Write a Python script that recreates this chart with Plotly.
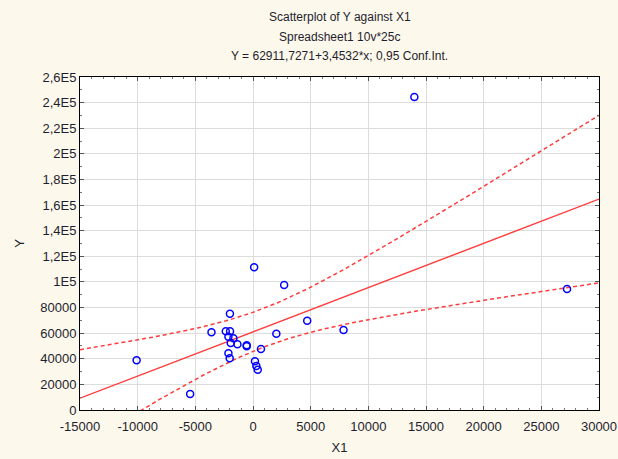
import numpy as np
import plotly.graph_objects as go

# Data
x1 = [100, 2700, -2000, -3600, -2360, -1990, -2130, -1700, -1930, -1350,
      -545, -545, 2025, 4700, 7850, 690, -2130, -2020, 170, 290,
      410, -10090, -5450, 13990, 27230]
y = [111400, 97600, 75200, 60700, 61400, 61400, 57200, 56000, 52300, 51300,
     50500, 49700, 59600, 69700, 62500, 47600, 44300, 40400, 38000, 34400,
     31500, 38800, 12500, 244300, 94500]

xtick_vals = [-15000, -10000, -5000, 0, 5000, 10000, 15000, 20000, 25000, 30000]
xtick_text = ["-15000", "-10000", "-5000", "0", "5000", "10000", "15000", "20000", "25000", "30000"]
ytick_vals = [0, 20000, 40000, 60000, 80000, 100000, 120000, 140000, 160000,
              180000, 200000, 220000, 240000, 260000]
ytick_text = ["0", "20000", "40000", "60000", "80000", "1E5", "1,2E5", "1,4E5", "1,6E5",
              "1,8E5", "2E5", "2,2E5", "2,4E5", "2,6E5"]

title_lines = ["Scatterplot of Y against X1", "Spreadsheet1 10v*25c",
               "Y = 62911,7271+3,4532*x; 0,95 Conf.Int."]

# Regression and 95% confidence band computed from the data
xa = np.array(x1, float)
ya = np.array(y, float)
n = len(xa)
slope, intercept = np.polyfit(xa, ya, 1)
resid = ya - (intercept + slope * xa)
s = np.sqrt(np.sum(resid ** 2) / (n - 2))
xm = xa.mean()
sxx = np.sum((xa - xm) ** 2)
t = 2.0687  # t(0.975, 23)
xs = np.linspace(-15000, 30000, 200)
fit = intercept + slope * xs
half = t * s * np.sqrt(1.0 / n + (xs - xm) ** 2 / sxx)

W, H = 618, 459
ML, MR, MT, MB = 80, 19, 77, 49
FONT = "Liberation Sans, Arial"
TXT = "#1e1e2e"

fig = go.Figure()
fig.add_trace(go.Scatter(x=xs, y=fit + half, mode="lines",
                         line=dict(color="#ff3b3b", width=1.5, dash="4px,3px"), hoverinfo="skip"))
fig.add_trace(go.Scatter(x=xs, y=fit - half, mode="lines",
                         line=dict(color="#ff3b3b", width=1.5, dash="4px,3px"), hoverinfo="skip"))
fig.add_trace(go.Scatter(x=xs, y=fit, mode="lines",
                         line=dict(color="#ff3b3b", width=1.4), hoverinfo="skip"))
fig.add_trace(go.Scatter(x=x1, y=y, mode="markers",
                         marker=dict(symbol="circle-open", size=7, color="#0000ff",
                                     line=dict(width=1.5, color="#0000ff"))))

axis_common = dict(showline=True, linecolor="black", linewidth=1, mirror="ticks",
                   ticks="inside", ticklen=4, tickcolor="#555", automargin=False,
                   showgrid=True, gridcolor="#dcdcdc", gridwidth=1, zeroline=False,
                   tickfont=dict(family=FONT, size=13, color=TXT))

fig.update_xaxes(range=[-15000, 30000], tickvals=xtick_vals, ticktext=xtick_text,
                 ticklabelstandoff=4,
                 minor=dict(ticks="inside", ticklen=2, tickcolor="#777", dtick=1000, showgrid=False),
                 title=dict(text="X1", font=dict(family=FONT, size=13, color=TXT), standoff=10),
                 **axis_common)
fig.update_yaxes(range=[0, 260000], tickvals=ytick_vals, ticktext=ytick_text,
                 minor=dict(ticks="inside", ticklen=2, tickcolor="#777", dtick=10000, showgrid=False),
                 title=dict(text="Y", font=dict(family=FONT, size=13, color=TXT), standoff=12),
                 **axis_common)

title_y = [17, 37, 56]
for txt, py in zip(title_lines, title_y):
    fig.add_annotation(text=txt, xref="paper", yref="paper", x=0.5, xanchor="center",
                       y=1 + (MT - py) / (H - MT - MB), yanchor="middle", showarrow=False,
                       font=dict(family=FONT, size=12, color=TXT))

fig.update_layout(
    width=W, height=H,
    margin=dict(l=ML, r=MR, t=MT, b=MB, autoexpand=False),
    paper_bgcolor="#fdf8ec", plot_bgcolor="white",
    showlegend=False,
)

fig.write_html("out.html", config={"displayModeBar": False},
               post_script="document.body.style.margin='0';document.body.style.background='#fdf8ec';")
